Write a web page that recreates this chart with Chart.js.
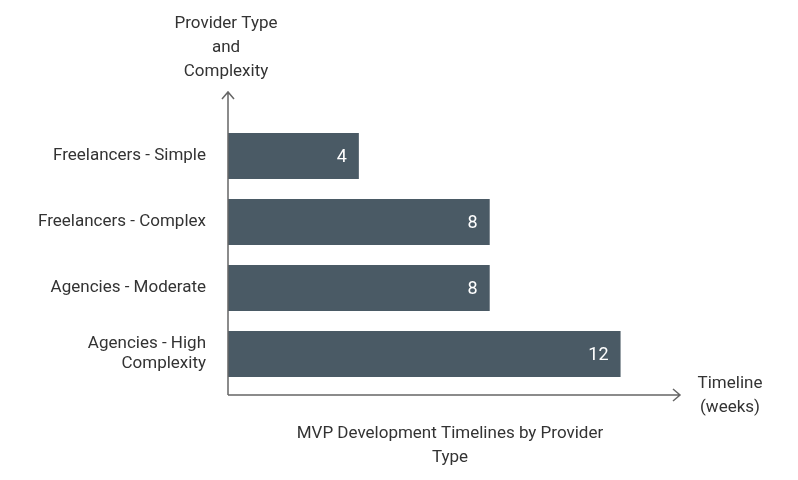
<!DOCTYPE html>
<html>
<head>
<script src="https://cdn.jsdelivr.net/npm/chart.js@4"></script>
<style>
  body { margin: 0; background: #fff; }
  #wrap { width: 798px; height: 480px; }
</style>
</head>
<body>
<div id="wrap"><canvas id="timelineChart"></canvas></div>
<script>
const categories = [
    'Freelancers - Simple',
    'Freelancers - Complex',
    'Agencies - Moderate',
    ['Agencies - High', 'Complexity']
];
const weeks = [4, 8, 8, 12];

const FONT = 'Roboto, "Noto Sans", sans-serif';
const TEXT = '#333';
const AXIS = '#666';

// axes with arrows, value labels, titles
const decorations = {
    id: 'decorations',
    afterDatasetsDraw(chart) {
        const { ctx, chartArea } = chart;
        const x0 = chartArea.left, yb = chartArea.bottom + 8;
        ctx.save();
        ctx.strokeStyle = AXIS;
        ctx.lineWidth = 1.5;
        ctx.beginPath();
        ctx.moveTo(x0, yb); ctx.lineTo(x0, 92);
        ctx.moveTo(x0 - 6, 99); ctx.lineTo(x0, 92); ctx.lineTo(x0 + 6, 99);
        ctx.moveTo(x0, yb); ctx.lineTo(680, yb);
        ctx.moveTo(673, yb - 6); ctx.lineTo(680, yb); ctx.lineTo(673, yb + 6);
        ctx.stroke();

        // values inside bars
        ctx.fillStyle = '#fff';
        ctx.font = '18px ' + FONT;
        ctx.textAlign = 'right';
        ctx.textBaseline = 'middle';
        chart.getDatasetMeta(0).data.forEach((bar, i) => {
            ctx.fillText(String(weeks[i]), bar.x - 12, bar.y + 1);
        });

        ctx.fillStyle = TEXT;
        ctx.font = '17px ' + FONT;
        ctx.textAlign = 'center';
        ['Provider Type', 'and', 'Complexity'].forEach((t, i) => ctx.fillText(t, 226, 24 + i * 24));
        ['Timeline', '(weeks)'].forEach((t, i) => ctx.fillText(t, 730, 384 + i * 24));
        ['MVP Development Timelines by Provider', 'Type'].forEach((t, i) => ctx.fillText(t, 450, 434 + i * 24));
        ctx.restore();
    }
};

new Chart(document.getElementById('timelineChart'), {
    type: 'bar',
    data: {
        labels: categories,
        datasets: [{
            data: weeks,
            backgroundColor: '#4a5a65',
            barPercentage: 0.7,
            categoryPercentage: 1
        }]
    },
    options: {
        indexAxis: 'y',
        responsive: true,
        maintainAspectRatio: false,
        animation: false,
        layout: { padding: { left: 0, right: 112, top: 123, bottom: 93 } },
        plugins: { legend: { display: false }, tooltip: { enabled: false } },
        scales: {
            x: {
                min: 0, max: 14,
                display: true,
                grid: { display: false },
                border: { display: false },
                ticks: { display: false },
                afterFit(s) { s.height = 0; }
            },
            y: {
                grid: { display: false },
                border: { display: false },
                ticks: { color: TEXT, font: { family: FONT, size: 17 }, padding: 14 },
                afterFit(s) { s.width = 228; }
            }
        }
    },
    plugins: [decorations]
});
</script>
</body>
</html>
